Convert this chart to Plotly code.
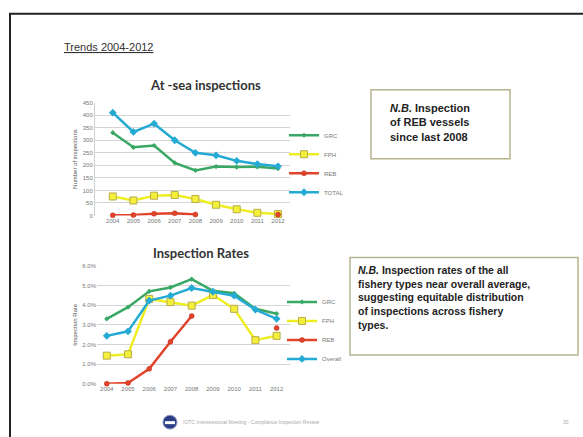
import plotly.graph_objects as go

W, H = 583, 437
years = [2004, 2005, 2006, 2007, 2008, 2009, 2010, 2011, 2012]
year_labels = [str(y) for y in years]

# At-sea inspections (counts)
grc_counts = [330, 272, 279, 210, 180, 195, 193, 194, 187]
fph_counts = [76, 60, 79, 82, 66, 43, 25, 11, 6]
reb_counts = [1, 2, 7, 9, 4, None, None, None, 4]
total_counts = [410, 333, 366, 300, 250, 240, 218, 205, 196]
count_ticks = [0, 50, 100, 150, 200, 250, 300, 350, 400, 450]

# Inspection rates (%)
grc_rate = [3.31, 3.90, 4.71, 4.91, 5.33, 4.74, 4.61, 3.82, 3.57]
fph_rate = [1.43, 1.50, 4.32, 4.16, 3.98, 4.52, 3.82, 2.22, 2.44]
reb_rate = [0.0, 0.04, 0.76, 2.14, 3.45, None, None, None, 2.84]
overall_rate = [2.44, 2.67, 4.24, 4.49, 4.88, 4.69, 4.49, 3.78, 3.31]
rate_ticks = [0, 1, 2, 3, 4, 5, 6]
rate_tick_labels = ["0.0%", "1.0%", "2.0%", "3.0%", "4.0%", "5.0%", "6.0%"]

GREEN = "#3aa865"
YELLOW = "#eeee22"
RED = "#e2432b"
CYAN = "#25aad4"


def px(x):
    return x / W


def py(y):
    return 1 - y / H


fig = go.Figure()

series_top = [
    ("GRC", grc_counts, GREEN, dict(symbol="diamond", size=4, color=GREEN)),
    ("FPH", fph_counts, YELLOW, dict(symbol="square", size=7, color="#f4f03a", line=dict(color="#b9ad4a", width=1))),
    ("REB", reb_counts, RED, dict(symbol="circle", size=5, color=RED, line=dict(color="#b8321f", width=0.5))),
    ("TOTAL", total_counts, CYAN, dict(symbol="diamond", size=6, color=CYAN)),
]
for name, vals, col, mk in series_top:
    fig.add_trace(go.Scatter(
        x=list(range(len(years))), y=vals, name=name, mode="lines+markers",
        line=dict(color=col, width=2.5), marker=mk, connectgaps=False,
        cliponaxis=False, xaxis="x", yaxis="y", legend="legend"))

series_bot = [
    ("GRC", grc_rate, GREEN, dict(symbol="diamond", size=4, color=GREEN)),
    ("FPH", fph_rate, YELLOW, dict(symbol="square", size=7, color="#f4f03a", line=dict(color="#b9ad4a", width=1))),
    ("REB", reb_rate, RED, dict(symbol="circle", size=5, color=RED, line=dict(color="#b8321f", width=0.5))),
    ("Overall", overall_rate, CYAN, dict(symbol="diamond", size=6, color=CYAN)),
]
for name, vals, col, mk in series_bot:
    fig.add_trace(go.Scatter(
        x=list(range(len(years))), y=vals, name=name, mode="lines+markers",
        line=dict(color=col, width=2.5), marker=mk, connectgaps=False,
        cliponaxis=False, xaxis="x2", yaxis="y2", legend="legend2"))

tickfont = dict(family="Liberation Sans, Arial", size=6, color="#777777")
grid = "#d4d4d4"

fig.update_layout(
    width=W, height=H, margin=dict(l=0, r=0, t=0, b=0),
    paper_bgcolor="white", plot_bgcolor="white",
    font=dict(family="Liberation Sans, Arial", color="#333333"),
    xaxis=dict(domain=[px(95), px(290)], range=[-0.86, 8.58],
               tickvals=list(range(len(years))), ticktext=year_labels,
               tickfont=tickfont, showgrid=False, zeroline=False,
               showline=False, ticks="", anchor="y"),
    yaxis=dict(domain=[py(215.5), py(101)], range=[0, 450],
               tickvals=count_ticks, tickfont=tickfont,
               showgrid=True, gridcolor=grid, gridwidth=1,
               zeroline=False, showline=True, linecolor="#cfcfcf",
               ticks="", anchor="x",
               title=dict(text="Number of inspections",
                          font=dict(size=6, color="#555555"), standoff=4)),
    xaxis2=dict(domain=[px(97), px(290)], range=[-0.46, 8.63],
                tickvals=list(range(len(years))), ticktext=year_labels,
                tickfont=tickfont, showgrid=False, zeroline=False,
                showline=False, ticks="", anchor="y2"),
    yaxis2=dict(domain=[py(386), py(266.7)], range=[0, 6],
                tickvals=rate_ticks, ticktext=rate_tick_labels, tickfont=tickfont,
                showgrid=True, gridcolor=grid, gridwidth=1,
                zeroline=False, showline=False, ticks="", anchor="x2",
                title=dict(text="Inspection Rate",
                           font=dict(size=6, color="#555555"), standoff=4)),
    legend=dict(x=px(284), y=py(163), xanchor="left", yanchor="middle",
                font=dict(size=6, color="#777777"), bgcolor="rgba(0,0,0,0)",
                itemwidth=30, tracegroupgap=0),
    legend2=dict(x=px(282), y=py(332), xanchor="left", yanchor="middle",
                 font=dict(size=6, color="#777777"), bgcolor="rgba(0,0,0,0)",
                 itemwidth=30, tracegroupgap=0),
    showlegend=True,
)

shapes = [
    # slide frame
    dict(type="rect", xref="paper", yref="paper", x0=px(10), x1=px(600),
         y0=py(460), y1=py(11), line=dict(color="#222222", width=2)),
    # note boxes
    dict(type="rect", xref="paper", yref="paper", x0=px(371), x1=px(510),
         y0=py(158), y1=py(88), line=dict(color="#b6b48c", width=1.5)),
    dict(type="rect", xref="paper", yref="paper", x0=px(350), x1=px(578),
         y0=py(357), y1=py(258), line=dict(color="#b6b48c", width=1.5)),
    # footer logo
    dict(type="circle", xref="paper", yref="paper", x0=px(163), x1=px(177),
         y0=py(432), y1=py(418), fillcolor="#2c3f86", line=dict(color="#8a96c0", width=1)),
    dict(type="rect", xref="paper", yref="paper", x0=px(165), x1=px(175),
         y0=py(427), y1=py(424), fillcolor="white", line=dict(width=0)),
]

annotations = [
    dict(text="<u>Trends 2004-2012</u>", x=px(62), y=py(45), xref="paper", yref="paper",
         xanchor="left", yanchor="middle", showarrow=False,
         font=dict(family="Liberation Sans, Arial", size=11, color="#333333")),
    dict(text="<b>At -sea inspections</b>", x=px(205), y=py(83), xref="paper", yref="paper",
         xanchor="center", yanchor="middle", showarrow=False,
         font=dict(family="Lato, Liberation Sans", size=13, color="#333333")),
    dict(text="<b>Inspection Rates</b>", x=px(201), y=py(253), xref="paper", yref="paper",
         xanchor="center", yanchor="middle", showarrow=False,
         font=dict(family="Lato, Liberation Sans", size=13, color="#333333")),
    dict(text="<b><i>N.B.</i> Inspection<br>of REB vessels<br>since last 2008</b>",
         x=px(388), y=py(121.5), xref="paper", yref="paper", xanchor="left", yanchor="middle",
         align="left", showarrow=False,
         font=dict(family="Liberation Sans, Arial", size=11, color="#222222")),
    dict(text="<b><i>N.B.</i> Inspection rates of the all<br>fishery types near overall average,<br>"
              "suggesting equitable distribution<br>of inspections across fishery<br>types.</b>",
         x=px(356), y=py(299), xref="paper", yref="paper", xanchor="left", yanchor="middle",
         align="left", showarrow=False,
         font=dict(family="Liberation Sans, Arial", size=10.5, color="#222222")),
    dict(text="IOTC Intersessional Meeting - Compliance Inspection Review",
         x=px(181), y=py(425), xref="paper", yref="paper", xanchor="left", yanchor="middle",
         showarrow=False, font=dict(family="Liberation Sans, Arial", size=5, color="#aaaaaa")),
    dict(text="30", x=px(566), y=py(425), xref="paper", yref="paper",
         xanchor="center", yanchor="middle", showarrow=False,
         font=dict(family="Liberation Sans, Arial", size=5, color="#aaaaaa")),
]

fig.update_layout(shapes=shapes, annotations=annotations)
fig.write_html("out.html", config={"displayModeBar": False},
               post_script="document.body.style.margin='0';")
